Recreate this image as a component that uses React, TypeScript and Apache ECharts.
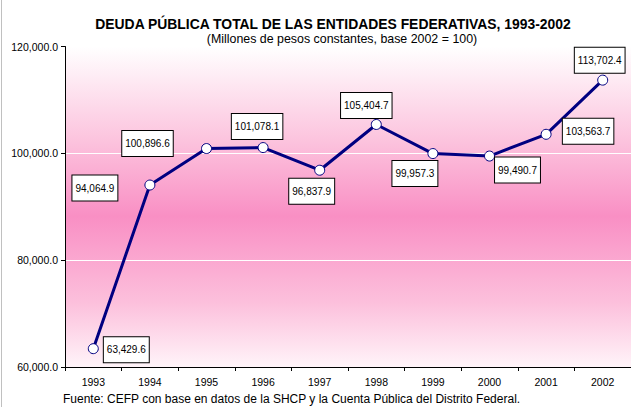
import React, { useEffect, useRef } from "react";
import * as echarts from "echarts";

const years = ["1993", "1994", "1995", "1996", "1997", "1998", "1999", "2000", "2001", "2002"];
const debt = [63429.6, 94064.9, 100896.6, 101078.1, 96837.9, 105404.7, 99957.3, 99490.7, 103563.7, 113702.4];
const labelOffsets: number[][] = [
  [33, 1], [-55, 3], [-59, -5], [-6, -21], [-8, 21], [-10, -19], [-18, 20], [28, 14], [42, -3], [-3, -20],
];
const yTicks = [60000, 80000, 100000, 120000];

const fmt = (v: number) =>
  v.toLocaleString("en-US", { minimumFractionDigits: 1, maximumFractionDigits: 1 });

export default function App() {
  const ref = useRef<HTMLDivElement>(null);
  useEffect(() => {
    const chart = echarts.init(ref.current!, null, { renderer: "svg" });
    const font = "'Liberation Sans', Arial, sans-serif";
    chart.setOption({
      animation: false,
      backgroundColor: "#ffffff",
      textStyle: { fontFamily: font },
      title: [
        {
          text: "DEUDA PÚBLICA TOTAL DE LAS ENTIDADES FEDERATIVAS, 1993-2002",
          left: 333, top: 16, textAlign: "center", padding: 0,
          textStyle: { fontSize: 13.9, lineHeight: 15, fontWeight: "bold", color: "#000", fontFamily: font },
        },
        {
          text: "(Millones de pesos constantes, base 2002 = 100)",
          left: 342, top: 32, textAlign: "center", padding: 0,
          textStyle: { fontSize: 12.4, lineHeight: 14, fontWeight: "normal", color: "#000", fontFamily: font },
        },
        {
          text: "Fuente: CEFP con base en datos de la SHCP y la Cuenta Pública del Distrito Federal.",
          left: 63, top: 392, padding: 0,
          textStyle: { fontSize: 12, lineHeight: 13, fontWeight: "normal", color: "#000", fontFamily: font },
        },
      ],
      graphic: [
        { type: "line", shape: { x1: 1.5, y1: 0, x2: 1.5, y2: 407 }, style: { stroke: "#c0c0c0", lineWidth: 1 } },
      ],
      grid: {
        left: 65, top: 46.5, width: 574, height: 320.5,
        show: true, borderWidth: 0,
        backgroundColor: new echarts.graphic.LinearGradient(0, 0, 0, 1, [
          { offset: 0, color: "#ffffff" },
          { offset: 0.3, color: "#fcc2dd" },
          { offset: 0.53, color: "#f98fc4" },
          { offset: 0.8, color: "#fcc0dc" },
          { offset: 1, color: "#fff4f9" },
        ]),
      },
      xAxis: {
        type: "category",
        data: years,
        boundaryGap: true,
        axisLine: { lineStyle: { color: "#000", width: 1 } },
        axisTick: { show: true, length: 4, lineStyle: { color: "#000" } },
        axisLabel: { color: "#000", fontSize: 10.5, margin: 9, fontFamily: font },
      },
      yAxis: {
        type: "value",
        min: yTicks[0], max: yTicks[yTicks.length - 1], interval: 20000,
        axisLine: { show: true, lineStyle: { color: "#000", width: 1 } },
        axisTick: { show: true, length: 4, lineStyle: { color: "#000" } },
        axisLabel: { color: "#000", fontSize: 10.5, margin: 7, formatter: (v: number) => fmt(v), fontFamily: font },
        splitLine: { show: true, lineStyle: { color: "#ffffff", width: 1 } },
      },
      series: [
        {
          type: "line",
          data: debt.map((v, i) => ({
            value: v,
            label: {
              show: true,
              position: "inside",
              offset: labelOffsets[i],
            },
          })),
          lineStyle: { color: "#000080", width: 3 },
          symbol: "circle",
          symbolSize: 10,
          itemStyle: { color: "#ffffff", borderColor: "#000080", borderWidth: 1 },
          label: {
            show: true,
            formatter: (p: any) => fmt(p.value),
            color: "#000",
            fontSize: 10,
            fontFamily: font,
            backgroundColor: "#ffffff",
            borderColor: "#000",
            borderWidth: 1,
            padding: [8, 3, 7, 3],
          },
          z: 3,
        },
      ],
    });
    return () => chart.dispose();
  }, []);
  return <div ref={ref} style={{ width: 631, height: 407, position: "absolute", left: 0, top: 0 }} />;
}
